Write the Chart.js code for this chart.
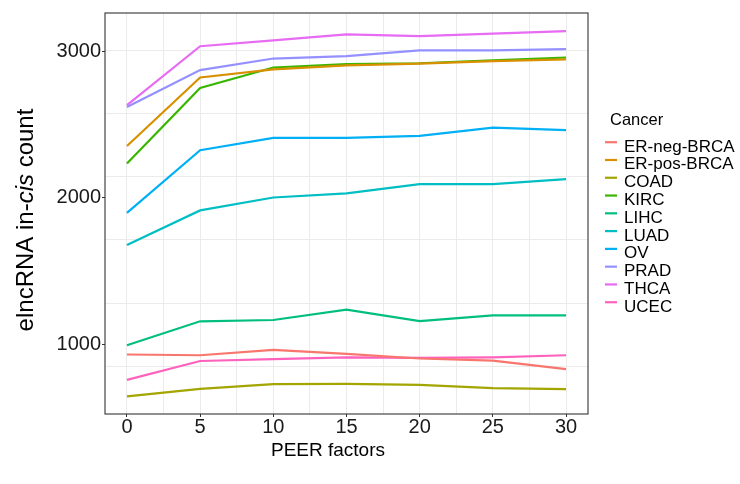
<!DOCTYPE html>
<html>
<head>
<meta charset="utf-8">
<script src="https://cdn.jsdelivr.net/npm/chart.js@4.4.1/dist/chart.umd.min.js"></script>
<style>
  html, body { margin: 0; padding: 0; background: #fff; }
  #wrap { width: 740px; height: 484px; position: relative; }
</style>
</head>
<body>
<div id="wrap"><canvas id="peerChart"></canvas></div>
<script>
// PEER factors on the x axis, eLncRNA in-cis counts per cancer type
const peerFactors = [0, 5, 10, 15, 20, 25, 30];
const cancers = ['ER-neg-BRCA', 'ER-pos-BRCA', 'COAD', 'KIRC', 'LIHC', 'LUAD', 'OV', 'PRAD', 'THCA', 'UCEC'];
const colors = ['#F8766D', '#D89000', '#A3A500', '#39B600', '#00BF7D', '#00BFC4', '#00B0F6', '#9590FF', '#E76BF3', '#FF62BC'];

const erNegBrca = [934, 929, 965, 938, 907, 893, 834];
const erPosBrca = [2354, 2820, 2875, 2902, 2915, 2931, 2943];
const coad = [649, 700, 732, 734, 727, 705, 698];
const kirc = [2234, 2748, 2888, 2911, 2917, 2936, 2956];
const lihc = [997, 1160, 1169, 1239, 1162, 1201, 1201];
const luad = [1680, 1915, 2003, 2031, 2094, 2094, 2128];
const ov = [1898, 2325, 2409, 2409, 2422, 2478, 2461];
const prad = [2619, 2870, 2949, 2965, 3004, 3004, 3013];
const thca = [2632, 3033, 3072, 3114, 3101, 3119, 3135];
const ucec = [761, 890, 902, 915, 911, 915, 929];

const counts = [erNegBrca, erPosBrca, coad, kirc, lihc, luad, ov, prad, thca, ucec];

// axis ticks and panel grid
const xTicks = [0, 2.5, 5, 7.5, 10, 12.5, 15, 17.5, 20, 22.5, 25, 27.5, 30];
const yTicks = [1000, 2000, 3000];
const yGridRows = [850, 1280, 1714, 2144, 2573, 3004];
const yRange = [529, 3259];

const sans = "'Liberation Sans', Arial, Helvetica, sans-serif";

const datasets = cancers.map((name, i) => ({
  label: name,
  data: peerFactors.map((x, j) => ({ x: x, y: counts[i][j] })),
  borderColor: colors[i],
  backgroundColor: colors[i],
  borderWidth: 2.2,
  pointRadius: 0,
  tension: 0
}));

// panel border, axis titles and the legend on the right
const decorations = {
  id: 'decorations',
  afterDatasetsDraw(chart) {
    const { ctx, chartArea: a } = chart;
    ctx.save();
    ctx.strokeStyle = '#333333';
    ctx.lineWidth = 1.1;
    ctx.strokeRect(a.left, a.top, a.right - a.left, a.bottom - a.top);
    ctx.restore();
  },
  afterDraw(chart) {
    const { ctx } = chart;
    ctx.save();
    ctx.fillStyle = '#000';
    ctx.textBaseline = 'alphabetic';

    // x title
    ctx.font = '19px ' + sans;
    ctx.textAlign = 'center';
    ctx.fillText('PEER factors', 328, 456);

    // y title with italic "cis"
    const parts = [['elncRNA in-', ''], ['cis', 'italic '], [' count', '']];
    ctx.translate(33, 220);
    ctx.rotate(-Math.PI / 2);
    let total = 0;
    parts.forEach(p => { ctx.font = p[1] + '24px ' + sans; total += ctx.measureText(p[0]).width; });
    let x = -total / 2;
    ctx.textAlign = 'left';
    parts.forEach(p => {
      ctx.font = p[1] + '24px ' + sans;
      ctx.fillText(p[0], x, 0);
      x += ctx.measureText(p[0]).width;
    });
    ctx.setTransform(1, 0, 0, 1, 0, 0);

    // legend
    ctx.textAlign = 'left';
    ctx.font = '16.5px ' + sans;
    ctx.fillText('Cancer', 610, 125);
    ctx.font = '17px ' + sans;
    chart.data.datasets.forEach((ds, i) => {
      const base = 151.7 + i * 17.78;
      ctx.strokeStyle = ds.borderColor;
      ctx.lineWidth = 2.2;
      ctx.beginPath();
      ctx.moveTo(605, base - 9.5);
      ctx.lineTo(617, base - 9.5);
      ctx.stroke();
      ctx.fillText(ds.label, 624, base);
    });
    ctx.restore();
  }
};

new Chart(document.getElementById('peerChart'), {
  type: 'line',
  data: { datasets: datasets },
  plugins: [decorations],
  options: {
    responsive: true,
    maintainAspectRatio: false,
    animation: false,
    devicePixelRatio: 1,
    layout: { padding: { top: 12, right: 152, bottom: 0, left: 0 } },
    plugins: {
      legend: { display: false },
      tooltip: { enabled: false }
    },
    scales: {
      x: {
        type: 'linear',
        min: -1.5,
        max: 31.5,
        afterBuildTicks: s => { s.ticks = xTicks.map(v => ({ value: v })); },
        afterFit: s => { s.height = 70; },
        ticks: {
          autoSkip: false,
          maxRotation: 0,
          padding: -2,
          color: '#1a1a1a',
          font: { family: sans, size: 20 },
          callback: v => (v % 5 === 0 ? String(v) : '')
        },
        grid: {
          color: '#ebebeb',
          lineWidth: 1,
          tickLength: 3,
          tickColor: c => (c.tick && c.tick.value % 5 === 0 ? '#333333' : 'rgba(0,0,0,0)')
        },
        border: { display: false }
      },
      y: {
        min: yRange[0],
        max: yRange[1],
        afterBuildTicks: s => { s.ticks = yTicks.map(v => ({ value: v })); },
        afterFit: s => { s.width = 105; },
        ticks: {
          padding: 1,
          color: '#1a1a1a',
          font: { family: sans, size: 20 },
          callback: v => String(v)
        },
        grid: { drawOnChartArea: false, tickLength: 3, tickColor: '#333333' },
        border: { display: false }
      },
      yGrid: {
        position: 'right',
        min: yRange[0],
        max: yRange[1],
        afterBuildTicks: s => { s.ticks = yGridRows.map(v => ({ value: v })); },
        afterFit: s => { s.width = 0; },
        ticks: { display: false },
        grid: { color: '#ebebeb', lineWidth: 1, drawTicks: false },
        border: { display: false }
      }
    }
  }
});
</script>
</body>
</html>
